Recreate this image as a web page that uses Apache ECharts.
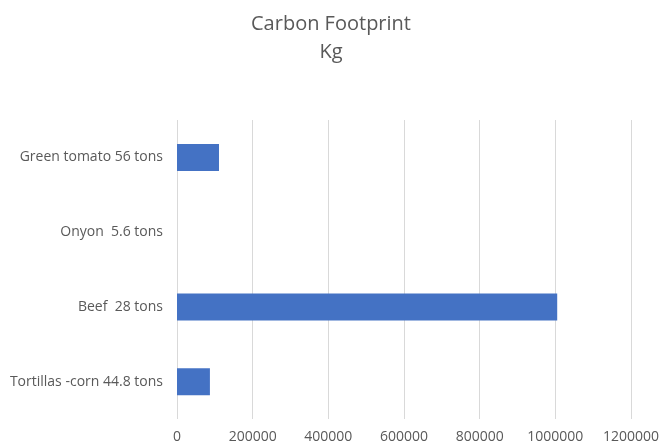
<!DOCTYPE html>
<html>
<head>
<meta charset="utf-8">
<script src="https://cdn.jsdelivr.net/npm/echarts@6/dist/echarts.min.js"></script>
<style>html,body{margin:0;padding:0;background:#fff;}#c{width:662px;height:447px;}</style>
</head>
<body>
<div id="c"></div>
<script>
const categories = ["Tortillas -corn 44.8 tons", "Beef  28 tons", "Onyon  5.6 tons", "Green tomato 56 tons"];
const values = [87000, 1005000, 0, 111000];
const xTicks = [0, 200000, 400000, 600000, 800000, 1000000, 1200000];

const chart = echarts.init(document.getElementById('c'));
chart.setOption({
  animation: false,
  title: {
    text: 'Carbon Footprint\nKg',
    left: 'center',
    top: 5,
    textStyle: { fontFamily: 'Open Sans', fontWeight: 'normal', fontSize: 20, color: '#595959', lineHeight: 28 }
  },
  grid: { left: 177, right: 31, top: 120, bottom: 28, containLabel: false },
  xAxis: {
    type: 'value',
    min: xTicks[0],
    max: xTicks[xTicks.length - 1],
    interval: 200000,
    axisLine: { show: false },
    axisTick: { show: false },
    splitLine: { lineStyle: { color: '#d9d9d9', width: 1 } },
    axisLabel: { color: '#595959', fontSize: 14, fontFamily: 'Open Sans', margin: 11, formatter: v => String(v) }
  },
  yAxis: {
    type: 'category',
    data: categories,
    axisLine: { show: false },
    axisTick: { show: false },
    axisLabel: { color: '#595959', fontSize: 14, fontFamily: 'Open Sans', margin: 14 }
  },
  series: [{
    type: 'bar',
    data: values,
    barWidth: 27,
    itemStyle: { color: '#4472c4' }
  }]
});
</script>
</body>
</html>
